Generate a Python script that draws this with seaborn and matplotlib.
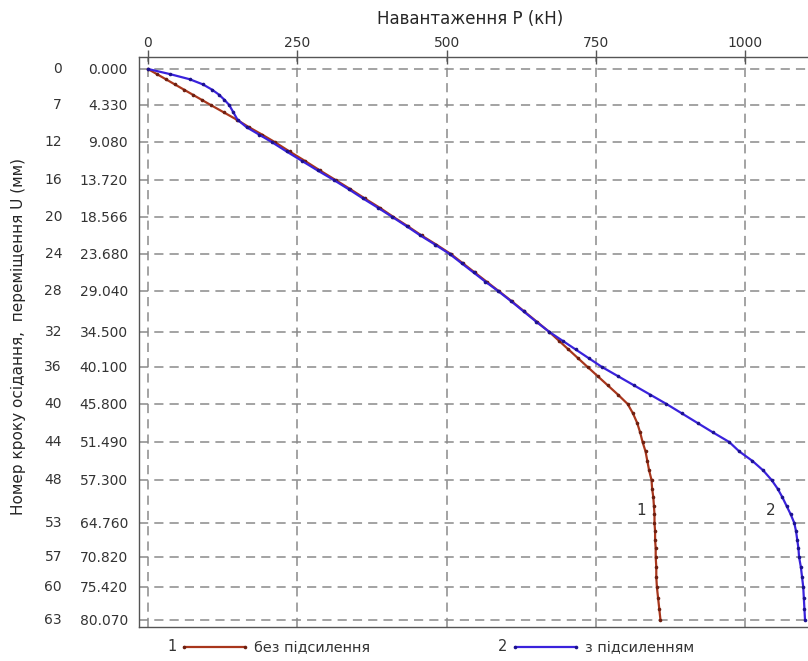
"""Load-settlement curves for the pile test, with and without strengthening."""
import numpy as np
import pandas as pd
import matplotlib
matplotlib.use("Agg")
import matplotlib.pyplot as plt
import seaborn as sns

# rows printed on the y axis: load step and settlement U (mm)
tick_steps = [0, 7, 12, 16, 20, 24, 28, 32, 36, 40, 44, 48, 53, 57, 60, 63]
tick_disp = ['0.000', '4.330', '9.080', '13.720', '18.566', '23.680', '29.040', '34.500',
             '40.100', '45.800', '51.490', '57.300', '64.760', '70.820', '75.420', '80.070']
# where those rows sit in the source chart (px from top), the axis is not uniform
tick_rows = [69, 105, 142, 180, 217, 254, 291, 332, 367, 404, 442, 480, 523, 557, 587, 620]
load_ticks = [0, 250, 500, 750, 1000]

steps = list(range(64))
# load P (kN) at every step
load_plain = [0, 15, 30, 45, 60, 75, 90, 105,
              127, 149, 169, 191, 212,
              237, 263, 288, 314,
              339, 363, 388, 411,
              435, 458, 483, 507,
              527, 547, 567, 587,
              609, 630, 651, 672,
              688, 704, 720, 736,
              753, 770, 787, 803,
              812, 819, 824, 828,
              833, 836, 839, 843,
              844, 846, 847, 848, 848,
              849, 849, 850, 850,
              851, 851, 852,
              854, 856, 858]
load_reinf = [0, 37, 70, 92, 107, 119, 128, 136,
              143, 150, 165, 186, 207,
              232, 258, 284, 311,
              336, 360, 385, 409,
              433, 456, 481, 505,
              525, 545, 565, 586,
              608, 629, 650, 672,
              694, 716, 738, 760,
              787, 814, 841, 868,
              894, 920, 946, 973,
              990, 1012, 1030, 1044,
              1054, 1062, 1069, 1076, 1082,
              1085, 1087, 1089, 1090,
              1093, 1095, 1097,
              1098, 1099, 1100]

names = ['без підсилення', 'з підсиленням']
line_colors = ['#a8361c', '#3a22dc']
marker_colors = ['#6e1f10', '#1c1290']

W, H = 808, 661


def make_scale():
    st = np.array(tick_steps, float)
    rw = np.array(tick_rows, float)
    lo = (rw[1] - rw[0]) / (st[1] - st[0])
    hi = (rw[-1] - rw[-2]) / (st[-1] - st[-2])

    def fwd(s):
        s = np.asarray(s, float)
        out = np.interp(s, st, rw)
        out = np.where(s < st[0], rw[0] + (s - st[0]) * lo, out)
        return np.where(s > st[-1], rw[-1] + (s - st[-1]) * hi, out)

    def inv(v):
        v = np.asarray(v, float)
        out = np.interp(v, rw, st)
        out = np.where(v < rw[0], st[0] + (v - rw[0]) / lo, out)
        return np.where(v > rw[-1], st[-1] + (v - rw[-1]) / hi, out)

    return fwd, inv


def main():
    sns.set_style('white')
    plt.rcParams['font.family'] = ['DejaVu Sans']
    plt.rcParams['text.color'] = '#333333'

    df = pd.concat([
        pd.DataFrame({'step': steps, 'load': load_plain, 'case': names[0]}),
        pd.DataFrame({'step': steps, 'load': load_reinf, 'case': names[1]}),
    ])

    fig = plt.figure(figsize=(W / 100, H / 100), dpi=100)
    ax = fig.add_axes([139 / W, (H - 627) / H, 672 / W, 570 / H])

    sns.lineplot(data=df, x='load', y='step', hue='case', palette=line_colors,
                 orient='y', sort=False, estimator=None, marker='o',
                 markersize=2.6, markeredgewidth=0, linewidth=1.6,
                 legend=False, ax=ax)
    for ln, mc in zip(ax.lines, marker_colors):
        ln.set_markerfacecolor(mc)

    fwd, inv = make_scale()
    ax.set_yscale('function', functions=(fwd, inv))
    ax.set_ylim(63.64, -2.33)
    ax.set_xlim(-15, 1110)

    ax.set_yticks(tick_steps)
    ax.set_yticklabels(tick_disp)
    ax.set_xticks(load_ticks)
    ax.xaxis.tick_top()
    ax.xaxis.set_label_position('top')
    ax.tick_params(axis='both', direction='inout', length=10, width=1,
                   color='#555555', labelsize=10, labelcolor='#333333', pad=3)
    ax.tick_params(axis='x', pad=0)

    ax.grid(True, color='#8a8a8a', linestyle=(0, (6, 4)), linewidth=1.1)
    for side in ['left', 'top', 'bottom']:
        ax.spines[side].set_color('#555555')
        ax.spines[side].set_linewidth(1)
    ax.spines['right'].set_visible(False)

    # step numbers form a second label column left of the settlements
    col_x = (62 - 139) / 672
    for s in tick_steps:
        ax.text(col_x, s, str(s), transform=ax.get_yaxis_transform(),
                ha='right', va='center', fontsize=10, color='#333333')

    ax.set_xlabel('Навантаження P (кН)', fontsize=12)
    ax.xaxis.set_label_coords(0.4926, 1.058)
    ax.set_ylabel('Номер кроку осідання,  переміщення U (мм)', fontsize=11)
    ax.yaxis.set_label_coords(-0.168, 0.509)

    ax.text(825, 51.6, '1', fontsize=11, ha='center', va='center', color='#333333')
    ax.text(1042, 51.6, '2', fontsize=11, ha='center', va='center', color='#333333')

    handles = [plt.Line2D([], [], color=c, lw=1.6, marker='o', markersize=2.6,
                          markeredgewidth=0, markerfacecolor=mc)
               for c, mc in zip(line_colors, marker_colors)]
    leg = fig.legend(handles, names, loc='center left',
                     bbox_to_anchor=(180 / W, 1 - 648 / H), ncol=2, frameon=False,
                     fontsize=10.4, handlelength=4.8, handletextpad=0.35,
                     columnspacing=9.7, borderpad=0, borderaxespad=0, numpoints=2)

    fig.canvas.draw()
    renderer = fig.canvas.get_renderer()
    for i, h in enumerate(leg.legend_handles):
        bb = h.get_window_extent(renderer)
        fig.text((bb.x0 - 6) / W, (bb.y0 + bb.y1) / 2 / H, str(i + 1),
                 ha='right', va='center', fontsize=10.5, color='#333333')

    fig.savefig('out.png', dpi=100)
    plt.close(fig)


if __name__ == '__main__':
    main()
